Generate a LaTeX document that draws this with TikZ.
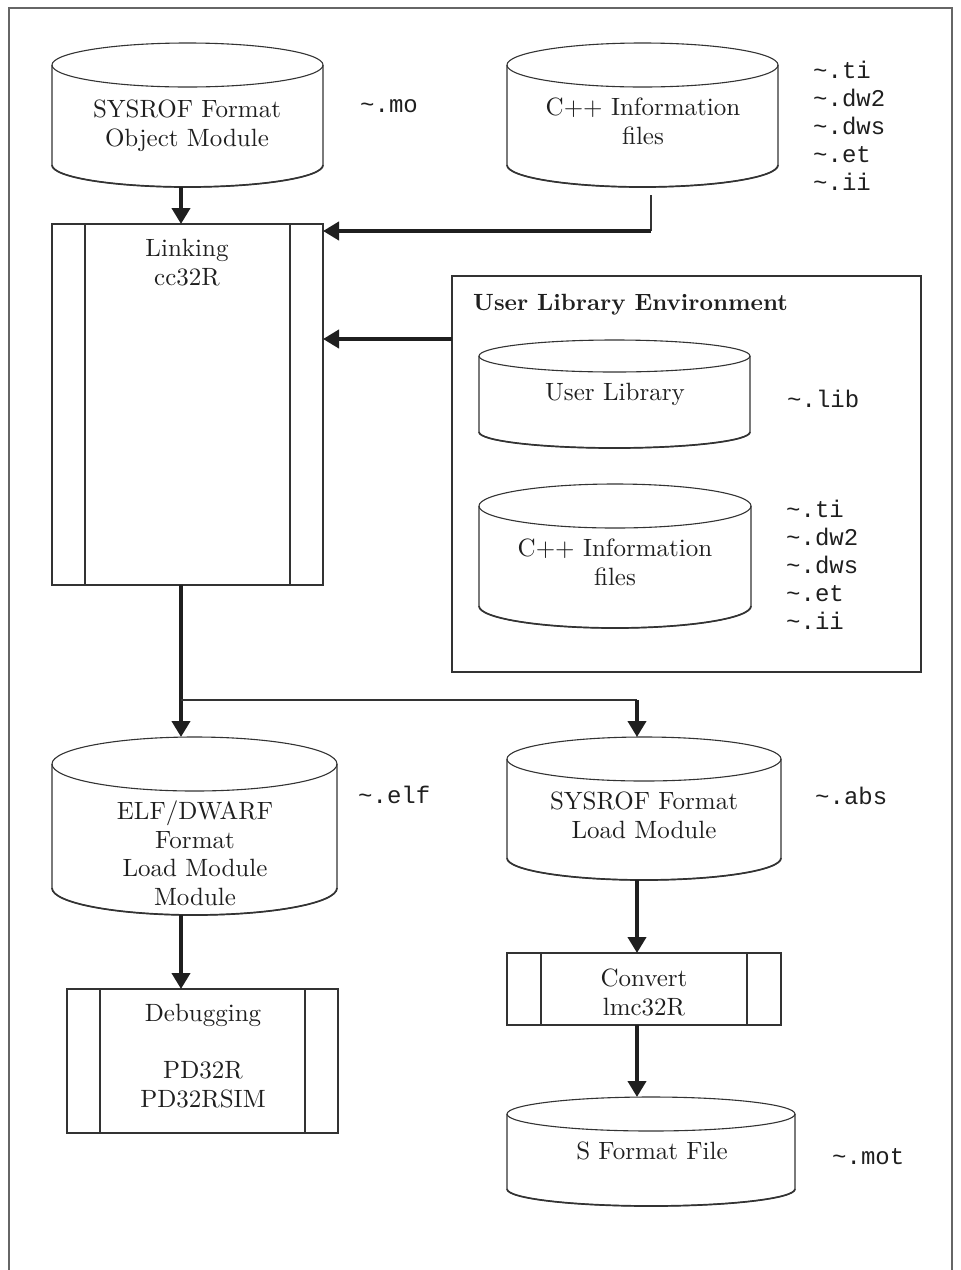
\documentclass[tikz,border=0pt]{standalone}
\usepackage{fontspec}
\setmainfont{lmroman10-regular.otf}[BoldFont=lmroman10-bold.otf]
\newfontfamily\monof{Liberation Mono}
\usetikzlibrary{arrows.meta,calc}

\tikzset{
  edge/.style={draw=black!80, line width=1.1pt},
  body/.style={draw=none, inner sep=0pt, outer sep=0pt},
  heavy/.style={draw=black!88, line width=4.5pt, -{Triangle[width=18pt,length=16pt]}},
  light/.style={draw=black!80, line width=1.8pt},
  label/.style={font={\fontsize{25}{28.5}\selectfont}, text=black!88, align=center, anchor=base, inner sep=0pt},
  ext/.style={font={\monof\fontsize{24}{28}\selectfont}, text=black!88, align=left, anchor=base west, inner sep=0pt},
}

% drum: name, left, right, top, bottom, half height of the end ellipse
\newcommand\drum[6]{%
  \pgfmathsetmacro\dw{#3-#2}%
  \pgfmathsetmacro\dh{#5-#4}%
  \pgfmathsetmacro\dcx{(#2+#3)/2}%
  \pgfmathsetmacro\dcy{(#4+#5)/2}%
  \pgfmathsetmacro\drx{(#3-#2)/2}%
  \node[body, minimum width=\dw pt, minimum height=\dh pt] (#1) at (\dcx,\dcy) {};
  \draw[edge] (\dcx,#4+#6) ellipse [x radius=\drx pt, y radius=#6pt];
  \draw[edge] (#2,#4+#6) -- (#2,#5-#6) arc [start angle=180, end angle=360, x radius=\drx pt, y radius=#6pt] -- (#3,#4+#6);
  \draw[edge, line width=1.7pt] (#2,#5-#6) arc [start angle=180, end angle=360, x radius=\drx pt, y radius=#6pt];
}

% process box with two side bars: name, left, right, top, bottom, bar inset
\newcommand\proc[6]{%
  \pgfmathsetmacro\dw{#3-#2}%
  \pgfmathsetmacro\dh{#5-#4}%
  \pgfmathsetmacro\dcx{(#2+#3)/2}%
  \pgfmathsetmacro\dcy{(#4+#5)/2}%
  \node[body, draw=black!80, line width=1.1pt, minimum width=\dw pt, minimum height=\dh pt] (#1) at (\dcx,\dcy) {};
  \draw[edge] (#2+#6,#4) -- (#2+#6,#5) (#3-#6,#4) -- (#3-#6,#5);
}

\begin{document}
\begin{tikzpicture}[x=1pt,y=-1pt]
\useasboundingbox (0,0) rectangle (961,1270);

% outer frame
\draw[draw=black!60, line width=1.6pt] (9,1275) -- (9,8) -- (952,8) -- (952,1275);

% stores and processes
\drum{cA}{52}{323}{43}{187}{22}
\drum{cB}{507}{778}{43}{187}{22}
\proc{link}{52}{323}{224}{585}{33}
\node[body, draw=black!80, line width=1.3pt, minimum width=469pt, minimum height=396pt] (env) at (686.5,474) {};
\drum{cU}{479}{750}{340}{448}{16}
\drum{cC}{479}{751}{484}{628}{22}
\drum{cE}{52}{337}{737}{915}{27}
\drum{cS}{507}{781}{737}{880}{22}
\proc{conv}{507}{781}{953}{1025}{34}
\drum{cF}{507}{795}{1097}{1206}{17}
\proc{dbg}{67}{338}{989}{1133}{33}

% texts (base anchor = baseline of the last line)
\node[label] (tA) at (187,146) {SYSROF Format\\Object Module};
\node[ext] (xA) at (360,112) {\textasciitilde.mo};
\node[label] (tB) at (643,144) {C++ Information\\files};
\node[ext] (xB) at (813,190) {\textasciitilde.ti\\\textasciitilde.dw2\\\textasciitilde.dws\\\textasciitilde.et\\\textasciitilde.ii};
\node[label] (tL) at (187,285) {Linking\\cc32R};
\node[anchor=base west, inner sep=0pt, text=black!88, font={\bfseries\fontsize{23.5}{28}\selectfont}] (tEnv) at (473,310) {User Library Environment};
\node[label] (tU) at (615,400) {User Library};
\node[ext] (xU) at (787,407) {\textasciitilde.lib};
\node[label] (tC) at (615,585) {C++ Information\\files};
\node[ext] (xC) at (786,629) {\textasciitilde.ti\\\textasciitilde.dw2\\\textasciitilde.dws\\\textasciitilde.et\\\textasciitilde.ii};
\node[label] (tE) at (195,905) {ELF/DWARF\\Format\\Load Module\\Module};
\node[ext] (xE) at (358,803) {\textasciitilde.elf};
\node[label] (tS) at (644,838) {SYSROF Format\\Load Module};
\node[ext] (xS) at (815,804) {\textasciitilde.abs};
\node[label] (tV) at (644,1015) {Convert\\lmc32R};
\node[label] (tF) at (652,1159) {S Format File};
\node[ext] (xF) at (832,1164) {\textasciitilde.mot};
\node[label] (tD) at (203,1107) {Debugging\\[28.5pt]PD32R\\PD32RSIM};

% connectors
\coordinate (b1) at (651,195);
\coordinate (b2) at (651,231);
\coordinate (lvl) at (0,339);
\coordinate (jn) at (181,700);
\coordinate (br) at (637,700);

\draw[heavy] ([xshift=-6.5pt]cA.south) -- ([xshift=-6.5pt]link.north);
\draw[light] (b1) -- (b2);
\draw[heavy] (b2) -- (b2 -| link.east);
\draw[heavy] (env.west |- lvl) -- (link.east |- lvl);
\draw[heavy] ([xshift=-6.5pt]link.south) -- (jn |- cE.north);
\draw[light] (jn) -- (br);
\draw[heavy] (br) -- (br |- cS.north);
\draw[heavy] (cE.south -| jn) -- (dbg.north -| jn);
\draw[heavy] (cS.south -| br) -- (conv.north -| br);
\draw[heavy] (conv.south -| br) -- (cF.north -| br);
\end{tikzpicture}
\end{document}
